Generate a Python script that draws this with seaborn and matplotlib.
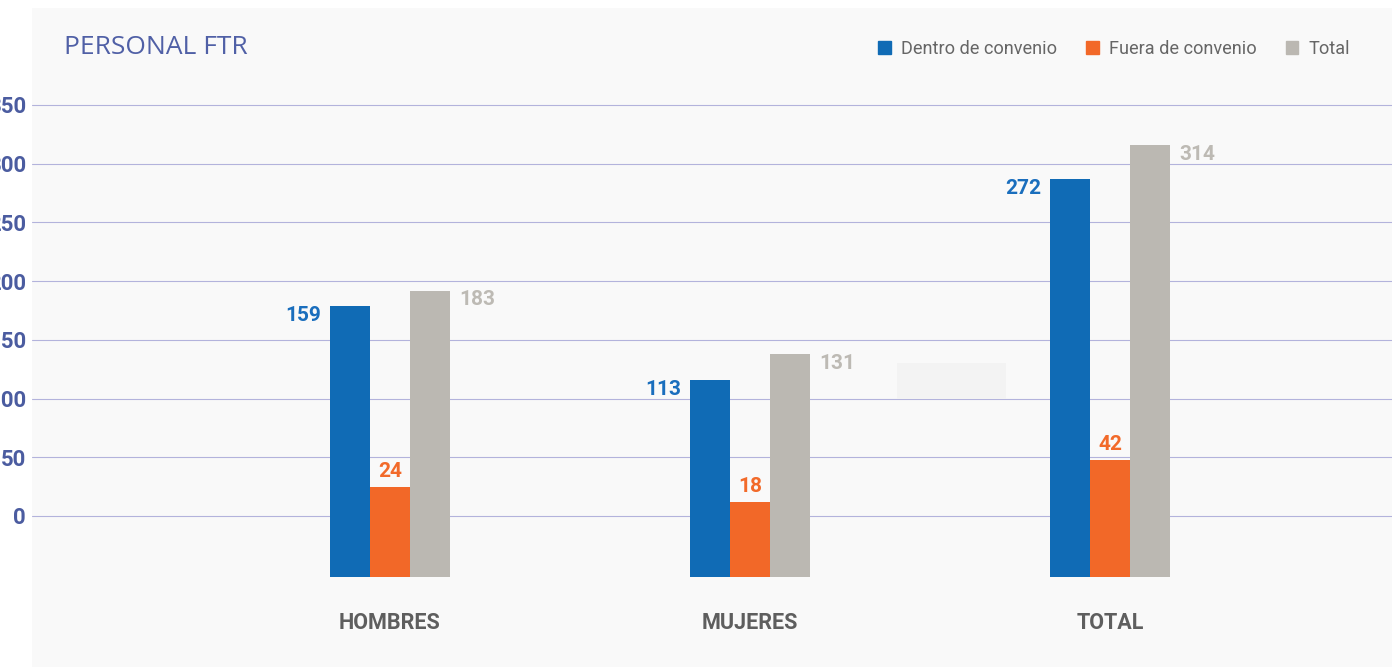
import numpy as np
import pandas as pd
import matplotlib.pyplot as plt
import seaborn as sns
from matplotlib.patches import Rectangle

# data
categorias = ["HOMBRES", "MUJERES", "TOTAL"]
series = ["Dentro de convenio", "Fuera de convenio", "Total"]
etiquetas_dentro = [159, 113, 272]
etiquetas_fuera = [24, 18, 42]
etiquetas_total = [183, 131, 314]
# bar tops as they sit on the drawn y axis (the source chart is not to scale)
tope_dentro = [179, 116, 287]
tope_fuera = [25, 12, 48]
tope_total = [192, 138, 316]
base = -52  # bars start below the 0 line
y_ticks = [0, 50, 100, 150, 200, 250, 300, 350]

colores = ["#106bb5", "#f26828", "#bbb8b2"]
colores_txt = ["#1a6ebd", "#f26a2a", "#bdbab4"]

df = pd.DataFrame({
    "grupo": np.repeat(categorias, 3),
    "serie": series * 3,
    "altura": [t - base for trio in zip(tope_dentro, tope_fuera, tope_total) for t in trio],
})
etiquetas = [etiquetas_dentro, etiquetas_fuera, etiquetas_total]

sns.set_theme(style="white")
plt.rcParams["font.family"] = ["Roboto", "DejaVu Sans"]

W, H = 1397, 667
fig = plt.figure(figsize=(W / 100, H / 100), dpi=100, facecolor="white")
ax = fig.add_axes([32 / W, 0, 1360 / W, 659 / H])
ax.set_facecolor("#f9f9f9")

sns.barplot(data=df, x="grupo", y="altura", hue="serie", palette=colores,
            width=1 / 3, gap=0, saturation=1, errorbar=None, bottom=base,
            linewidth=0, legend=False, ax=ax)

ax.set_xlim(-0.994, 2.783)
ax.set_ylim(-128.6, 432.6)
ax.set_yticks(y_ticks)
ax.set_yticklabels([str(v) for v in y_ticks])
ax.yaxis.grid(True, color="#b3b3dc", linewidth=0.8)
ax.set_axisbelow(True)
ax.tick_params(axis="y", length=0, pad=4.3, labelsize=16, labelcolor="#4b5ca0")
for t in ax.get_yticklabels():
    t.set_fontweight("bold")
ax.set_xticks([])
ax.set_xlabel("")
ax.set_ylabel("")
for s in ax.spines.values():
    s.set_visible(False)

# faint box left in the source picture
ax.add_patch(Rectangle((1.408, 100), 0.303, 30.3, color="#f3f3f3", lw=0, zorder=1))

# value labels
for j, cont in enumerate(ax.containers):
    for bar, val in zip(cont, etiquetas[j]):
        x0 = bar.get_x()
        top = bar.get_y() + bar.get_height()
        if j == 0:
            ax.text(x0 - 0.025, top - 8, str(val), ha="right", va="center",
                    color=colores_txt[j], fontsize=15, fontweight="bold")
        elif j == 1:
            ax.text(x0 + bar.get_width() / 2, top + 5, str(val), ha="center",
                    va="bottom", color=colores_txt[j], fontsize=15, fontweight="bold")
        else:
            ax.text(x0 + bar.get_width() + 0.025, top - 8, str(val), ha="left",
                    va="center", color=colores_txt[j], fontsize=15, fontweight="bold")

# category names
for i, c in enumerate(categorias):
    ax.text(i, -91.5, c, ha="center", va="center", color="#5e5e5e",
            fontsize=15.5, fontweight="semibold")

fig.text(64 / W, 1 - 47 / H, "PERSONAL FTR", ha="left", va="center",
         color="#5060a6", fontsize=19, family=["Open Sans", "DejaVu Sans"])

handles = [Rectangle((0, 0), 1, 1, color=c) for c in colores]
ax.legend(handles, series, ncol=3, loc="center right",
          bbox_to_anchor=(1359 / W, 1 - 49 / H), bbox_transform=fig.transFigure,
          frameon=False, handlelength=0.7, handleheight=0.7,
          handletextpad=0.55, columnspacing=1.6, borderpad=0, labelcolor="#666666",
          prop={"size": 13.1})

plt.savefig("out.png", dpi=100)
